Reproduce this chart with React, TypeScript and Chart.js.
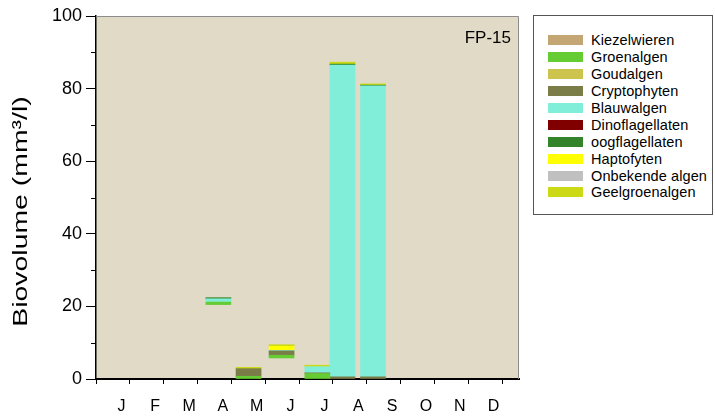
import React, { useEffect, useRef } from "react";
import { Chart, registerables } from "chart.js";

Chart.register(...registerables);

// Month initials along the x axis
const monthLabels = ["J", "F", "M", "A", "M", "J", "J", "A", "S", "O", "N", "D"];
const daysInMonth = [31, 28, 31, 30, 31, 30, 31, 31, 30, 31, 30, 31];

// Sampling dates (month number, day of month)
const sampleMonth = [4, 5, 6, 7, 8, 8];
const sampleDay = [12, 9, 8, 10, 2, 30];

// Lower end of each sample's stack (mm3/l)
const stackBase = [20.5, 0, 5.8, 0, 0, 0];

// Biovolume per group (mm3/l), one value per sample
const kiezelwieren = [0, 0, 0, 0, 0, 0];
const groenalgen = [0.7, 0.75, 0.75, 1.5, 0, 0];
const goudalgen = [0, 0, 0, 0, 0, 0];
const cryptophyten = [0, 2.1, 1.2, 0.2, 0.6, 0.6];
const blauwalgen = [0.9, 0, 0.15, 1.7, 85.9, 80.15];
const dinoflagellaten = [0, 0, 0, 0, 0, 0];
const oogflagellaten = [0.3, 0, 0, 0, 0.25, 0.2];
const haptofyten = [0, 0, 1.1, 0, 0, 0];
const onbekendeAlgen = [0, 0, 0, 0, 0, 0];
const geelgroenalgen = [0, 0.35, 0.45, 0.4, 0.55, 0.35];

const groupNames = [
  "Kiezelwieren",
  "Groenalgen",
  "Goudalgen",
  "Cryptophyten",
  "Blauwalgen",
  "Dinoflagellaten",
  "oogflagellaten",
  "Haptofyten",
  "Onbekende algen",
  "Geelgroenalgen",
];
const groupValues = [
  kiezelwieren,
  groenalgen,
  goudalgen,
  cryptophyten,
  blauwalgen,
  dinoflagellaten,
  oogflagellaten,
  haptofyten,
  onbekendeAlgen,
  geelgroenalgen,
];
const groupColors = [
  "#C4A574",
  "#66CC33",
  "#CCC44C",
  "#7A7D48",
  "#80EED8",
  "#800000",
  "#33832A",
  "#FFFF00",
  "#C0C0C0",
  "#CCD916",
];

const stationLabel = "FP-15";
const yTitle = "Biovolume (mm³/l)";

const FONT = 'Arial, "Liberation Sans", sans-serif';
const PLOT_BG = "#E0DAC6";

// Position on an axis where every month has the same width
function monthPosition(m: number, d: number): number {
  return m - 1 + (d - 1) / daysInMonth[m - 1];
}

function buildDatasets() {
  const positions = sampleMonth.map((m, i) => monthPosition(m, sampleDay[i]));
  const running = stackBase.slice();
  return groupNames.map((name, g) => {
    const data = positions.map((x, i) => {
      const v = groupValues[g][i];
      const lo = running[i];
      running[i] = lo + v;
      return v > 0 ? { x, y: [lo, lo + v] } : { x, y: null };
    });
    return {
      label: name,
      data,
      backgroundColor: groupColors[g],
      borderWidth: 0,
      barThickness: 25,
      grouped: false,
    };
  });
}

const plotFrame = {
  id: "plotFrame",
  beforeDraw(chart: any) {
    const { ctx, chartArea: a } = chart;
    ctx.save();
    ctx.fillStyle = PLOT_BG;
    ctx.fillRect(a.left, a.top, a.right - a.left, a.bottom - a.top);
    ctx.restore();
  },
  afterDraw(chart: any) {
    const { ctx, chartArea: a } = chart;
    const y = chart.scales.y;
    ctx.save();
    // thin frame on the open sides
    ctx.strokeStyle = "#8C8C8C";
    ctx.lineWidth = 1;
    ctx.beginPath();
    ctx.moveTo(a.left, a.top + 0.5);
    ctx.lineTo(a.right - 0.5, a.top + 0.5);
    ctx.lineTo(a.right - 0.5, a.bottom);
    ctx.stroke();
    // minor ticks between labelled values
    ctx.strokeStyle = "#000";
    ctx.lineWidth = 1;
    for (let v = 10; v < 100; v += 20) {
      const py = Math.round(y.getPixelForValue(v)) + 0.5;
      ctx.beginPath();
      ctx.moveTo(a.left - 5, py);
      ctx.lineTo(a.left, py);
      ctx.stroke();
    }
    // station name
    ctx.fillStyle = "#000";
    ctx.font = `17px ${FONT}`;
    ctx.textAlign = "right";
    ctx.textBaseline = "middle";
    ctx.fillText(stationLabel, a.right - 8, a.top + 22);
    ctx.restore();

    // y-axis title, set in a tall narrow style
    ctx.save();
    ctx.translate(21, (a.top + a.bottom) / 2 + 14);
    ctx.rotate(-Math.PI / 2);
    ctx.scale(1.42, 1);
    ctx.fillStyle = "#000";
    ctx.font = `20px ${FONT}`;
    ctx.textAlign = "center";
    ctx.textBaseline = "middle";
    ctx.fillText(yTitle, 0, 0);
    ctx.restore();
  },
};

function Legend() {
  return (
    <div
      style={{
        position: "absolute",
        left: 533,
        top: 15,
        width: 180,
        height: 200,
        boxSizing: "border-box",
        border: "1px solid #555",
        background: "#fff",
        fontFamily: FONT,
        fontSize: 14.5,
        letterSpacing: "0.1px",
        color: "#000",
      }}
    >
      <div style={{ position: "absolute", top: 16, left: 0 }}>
        {groupNames.map((name, i) => (
          <div
            key={name}
            style={{ display: "flex", alignItems: "center", height: 16.9, whiteSpace: "nowrap" }}
          >
            <span
              style={{
                display: "inline-block",
                marginLeft: 14,
                width: 35,
                height: 10,
                background: groupColors[i],
              }}
            />
            <span style={{ marginLeft: 8, lineHeight: "16px" }}>{name}</span>
          </div>
        ))}
      </div>
    </div>
  );
}

export default function App() {
  const canvasRef = useRef<HTMLCanvasElement | null>(null);

  useEffect(() => {
    document.body.style.margin = "0";
    const canvas = canvasRef.current;
    if (!canvas) return;
    Chart.defaults.font.family = FONT;

    const chart = new Chart(canvas, {
      type: "bar",
      data: { datasets: buildDatasets() as any },
      options: {
        animation: false,
        responsive: false,
        devicePixelRatio: 1,
        layout: { padding: { left: 0, top: 16, right: 196, bottom: 0 } },
        plugins: {
          legend: { display: false },
          tooltip: { enabled: false },
        },
        scales: {
          x: {
            type: "linear",
            min: 0,
            max: 12,
            z: 1,
            afterBuildTicks: (axis: any) => {
              const t: { value: number }[] = [];
              for (let i = 0; i <= 12; i++) {
                t.push({ value: i });
                if (i < 12) t.push({ value: i + 0.5 });
              }
              axis.ticks = t;
            },
            afterFit: (s: any) => {
              s.height = 37;
            },
            ticks: {
              autoSkip: false,
              maxRotation: 0,
              minRotation: 0,
              padding: 13,
              color: "#000",
              font: { size: 16 },
              callback: (v: any) =>
                Number.isInteger(v) ? "" : monthLabels[Math.floor(Number(v))],
            },
            grid: {
              drawOnChartArea: false,
              tickLength: 5,
              tickWidth: 1,
              tickColor: (ctx: any) =>
                ctx.tick && Number.isInteger(ctx.tick.value) ? "#000" : "rgba(0,0,0,0)",
            },
            border: { color: "#000", width: 2 },
          },
          y: {
            min: 0,
            max: 100,
            z: 1,
            afterFit: (s: any) => {
              s.width = 96;
            },
            ticks: {
              stepSize: 10,
              padding: 4,
              color: "#000",
              font: { size: 18 },
              callback: (v: any) => (Number(v) % 20 === 0 ? String(v) : ""),
            },
            grid: {
              drawOnChartArea: false,
              tickLength: 10,
              tickWidth: 1,
              tickColor: (ctx: any) =>
                ctx.tick && ctx.tick.value % 20 === 0 ? "#000" : "rgba(0,0,0,0)",
            },
            border: { color: "#000", width: 1.5 },
            title: { display: false, text: yTitle },
          },
        },
      },
      plugins: [plotFrame],
    });

    return () => chart.destroy();
  }, []);

  return (
    <div style={{ position: "relative", width: 715, height: 416, background: "#fff", overflow: "hidden" }}>
      <canvas ref={canvasRef} width={715} height={416} style={{ display: "block" }} />
      <Legend />
    </div>
  );
}
